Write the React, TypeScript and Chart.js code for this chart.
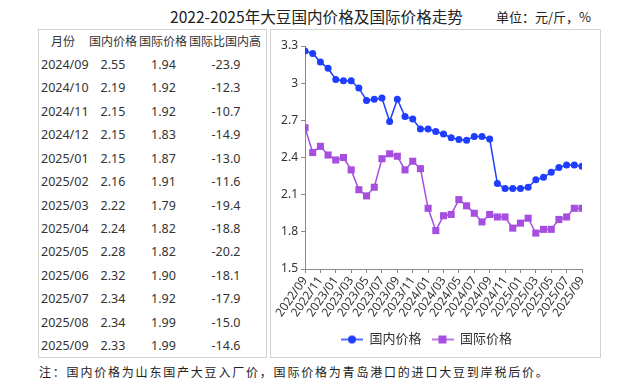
import React, { useEffect, useRef } from 'react';
import { Chart, registerables } from 'chart.js';

Chart.register(...registerables);

const months = [
  '2022/09', '2022/10', '2022/11', '2022/12', '2023/01', '2023/02', '2023/03', '2023/04',
  '2023/05', '2023/06', '2023/07', '2023/08', '2023/09', '2023/10', '2023/11', '2023/12',
  '2024/01', '2024/02', '2024/03', '2024/04', '2024/05', '2024/06', '2024/07', '2024/08',
  '2024/09', '2024/10', '2024/11', '2024/12', '2025/01', '2025/02', '2025/03', '2025/04',
  '2025/05', '2025/06', '2025/07', '2025/08', '2025/09',
];

const domestic = [
  3.26, 3.24, 3.17, 3.12, 3.03, 3.02, 3.02, 2.96, 2.86, 2.87, 2.88, 2.69, 2.87, 2.73, 2.71, 2.63,
  2.63, 2.61, 2.59, 2.56, 2.545, 2.54, 2.57, 2.57, 2.55, 2.19, 2.15, 2.15, 2.15, 2.16, 2.22, 2.24,
  2.28, 2.32, 2.34, 2.34, 2.33,
];

const international = [
  2.64, 2.44, 2.49, 2.42, 2.38, 2.40, 2.30, 2.14, 2.09, 2.16, 2.39, 2.43, 2.41, 2.30, 2.37, 2.31,
  1.99, 1.81, 1.93, 1.94, 2.06, 2.01, 1.95, 1.88, 1.94, 1.92, 1.92, 1.83, 1.87, 1.91, 1.79, 1.82,
  1.82, 1.90, 1.92, 1.99, 1.99,
];

const tableHeader = ['月份', '国内价格', '国际价格', '国际比国内高'];
const tableMonths = [
  '2024/09', '2024/10', '2024/11', '2024/12', '2025/01', '2025/02', '2025/03',
  '2025/04', '2025/05', '2025/06', '2025/07', '2025/08', '2025/09',
];
const tableDomestic = ['2.55', '2.19', '2.15', '2.15', '2.15', '2.16', '2.22', '2.24', '2.28', '2.32', '2.34', '2.34', '2.33'];
const tableIntl = ['1.94', '1.92', '1.92', '1.83', '1.87', '1.91', '1.79', '1.82', '1.82', '1.90', '1.92', '1.99', '1.99'];
const tableDiff = ['-23.9', '-12.3', '-10.7', '-14.9', '-13.0', '-11.6', '-19.4', '-18.8', '-20.2', '-18.1', '-17.9', '-15.0', '-14.6'];

const seriesNames = ['国内价格', '国际价格'];
const titleText = '2022-2025年大豆国内价格及国际价格走势';
const unitText = '单位：元/斤，%';
const noteText = '注：国内价格为山东国产大豆入厂价，国际价格为青岛港口的进口大豆到岸税后价。';

const BLUE = '#1f3dff';
const PURPLE = '#a54ee0';
const FONT = "'Noto Sans', 'Noto Sans CJK SC', sans-serif";
const TEXT = '#333333';

function legendIcon(color: string, shape: 'circle' | 'rect') {
  const c = document.createElement('canvas');
  c.width = 22;
  c.height = 10;
  const ctx = c.getContext('2d')!;
  ctx.strokeStyle = color;
  ctx.lineWidth = 1.5;
  ctx.beginPath();
  ctx.moveTo(0, 5);
  ctx.lineTo(22, 5);
  ctx.stroke();
  ctx.fillStyle = color;
  if (shape === 'circle') {
    ctx.beginPath();
    ctx.arc(11, 5, 4, 0, Math.PI * 2);
    ctx.fill();
  } else {
    ctx.fillRect(7, 1, 8, 8);
  }
  return c;
}

function ChartPanel() {
  const ref = useRef<HTMLCanvasElement | null>(null);
  useEffect(() => {
    if (!ref.current) return;
    const icons = [legendIcon(BLUE, 'circle'), legendIcon(PURPLE, 'rect')];
    const chart = new Chart(ref.current, {
      type: 'line',
      data: {
        datasets: [
          {
            label: seriesNames[0],
            data: domestic.map((v, i) => ({ x: i, y: v })),
            borderColor: BLUE,
            backgroundColor: BLUE,
            borderWidth: 1.5,
            pointRadius: 3.5,
            pointStyle: 'circle',
            pointBorderWidth: 0,
            tension: 0,
          },
          {
            label: seriesNames[1],
            data: international.map((v, i) => ({ x: i, y: v })),
            borderColor: PURPLE,
            backgroundColor: PURPLE,
            borderWidth: 1.5,
            pointRadius: 5,
            pointStyle: 'rect',
            pointBorderWidth: 0,
            tension: 0,
          },
        ],
      },
      options: {
        animation: false,
        responsive: false,
        maintainAspectRatio: false,
        layout: { padding: { top: 16, right: 18, bottom: 1, left: 0 } },
        plugins: {
          tooltip: { enabled: false },
          legend: {
            position: 'bottom',
            labels: {
              usePointStyle: true,
              pointStyleWidth: 22,
              padding: 10,
              color: TEXT,
              font: { family: FONT, size: 13 },
              generateLabels: (ch: any) =>
                ch.data.datasets.map((ds: any, i: number) => ({
                  text: ds.label,
                  pointStyle: icons[i],
                  fillStyle: ds.borderColor,
                  strokeStyle: ds.borderColor,
                  lineWidth: 0,
                  hidden: false,
                  datasetIndex: i,
                  fontColor: TEXT,
                })),
            },
          },
        },
        scales: {
          x: {
            type: 'linear',
            min: 0,
            max: months.length - 1,
            ticks: {
              stepSize: 2,
              autoSkip: false,
              minRotation: 55,
              maxRotation: 55,
              padding: 1,
              color: TEXT,
              font: { family: FONT, size: 12 },
              callback: (v: any) => months[Math.round(Number(v))] ?? '',
            },
            grid: { drawOnChartArea: false, drawTicks: true, tickLength: 4, color: '#8a8a8a' },
            border: { color: '#8a8a8a', width: 1 },
            afterFit: (s: any) => {
              s.height = 54;
            },
          },
          y: {
            min: 1.5,
            max: 3.3,
            ticks: {
              stepSize: 0.3,
              padding: 3,
              color: TEXT,
              font: { family: FONT, size: 12 },
              callback: (v: any) => String(Number(Number(v).toFixed(1))),
            },
            grid: { drawOnChartArea: false, drawTicks: true, tickLength: 4, color: '#8a8a8a' },
            border: { color: '#8a8a8a', width: 1 },
            afterFit: (s: any) => {
              s.width = 34;
            },
          },
        },
      },
    } as any);
    return () => chart.destroy();
  }, []);
  return <canvas ref={ref} width={329} height={327} style={{ position: 'absolute', left: 0, top: 0, width: 329, height: 327 }} />;
}

const ROW0 = 65;
const ROWH = 23.42;

function Cell({ text, cx, cy, align = 'center', size = 12.5 }: { text: string; cx: number; cy: number; align?: 'center' | 'left'; size?: number }) {
  const w = 90;
  const left = align === 'center' ? cx - w / 2 : cx;
  return (
    <div
      style={{
        position: 'absolute',
        left,
        top: cy - 10,
        width: w,
        height: 20,
        lineHeight: '20px',
        textAlign: align,
        fontSize: size,
        fontFamily: FONT,
        color: TEXT,
        whiteSpace: 'nowrap',
      }}
    >
      {text}
    </div>
  );
}

export default function App() {
  useEffect(() => {
    document.body.style.margin = '0';
  }, []);
  const headerX = [63, 113, 163, 225];
  return (
    <div style={{ position: 'fixed', left: 0, top: 0, width: 640, height: 389, background: '#fff', overflow: 'hidden' }}>
      <div
        style={{
          position: 'absolute',
          left: 170,
          top: 5,
          fontSize: 15.6,
          lineHeight: '22px',
          fontFamily: "'Noto Sans CJK SC', sans-serif",
          color: '#222',
          whiteSpace: 'nowrap',
        }}
      >
        {titleText}
      </div>
      <div
        style={{
          position: 'absolute',
          left: 496,
          top: 8,
          fontSize: 13,
          lineHeight: '18px',
          fontFamily: "'Noto Sans CJK SC', sans-serif",
          color: '#222',
          whiteSpace: 'nowrap',
        }}
      >
        {unitText}
      </div>
      <div
        style={{
          position: 'absolute',
          left: 38,
          top: 29,
          width: 229,
          height: 329,
          border: '1px solid #d3d3d3',
          boxSizing: 'border-box',
        }}
      />
      {tableHeader.map((h, i) => (
        <Cell key={'h' + i} text={h} cx={headerX[i]} cy={42.3} size={12} />
      ))}
      {tableMonths.map((m, r) => (
        <React.Fragment key={m}>
          <Cell text={m} cx={41} cy={ROW0 + r * ROWH} align="left" />
          <Cell text={tableDomestic[r]} cx={113} cy={ROW0 + r * ROWH} />
          <Cell text={tableIntl[r]} cx={163.5} cy={ROW0 + r * ROWH} />
          <Cell text={tableDiff[r]} cx={226} cy={ROW0 + r * ROWH} />
        </React.Fragment>
      ))}
      <div
        style={{
          position: 'absolute',
          left: 270,
          top: 29,
          width: 331,
          height: 329,
          border: '1px solid #d3d3d3',
          boxSizing: 'border-box',
        }}
      >
        <ChartPanel />
      </div>
      <div
        style={{
          position: 'absolute',
          left: 39,
          top: 362,
          fontSize: 12,
          lineHeight: '20px',
          letterSpacing: '1.8px',
          fontFamily: "'Noto Sans CJK SC', sans-serif",
          color: '#222',
          whiteSpace: 'nowrap',
        }}
      >
        {noteText}
      </div>
    </div>
  );
}
